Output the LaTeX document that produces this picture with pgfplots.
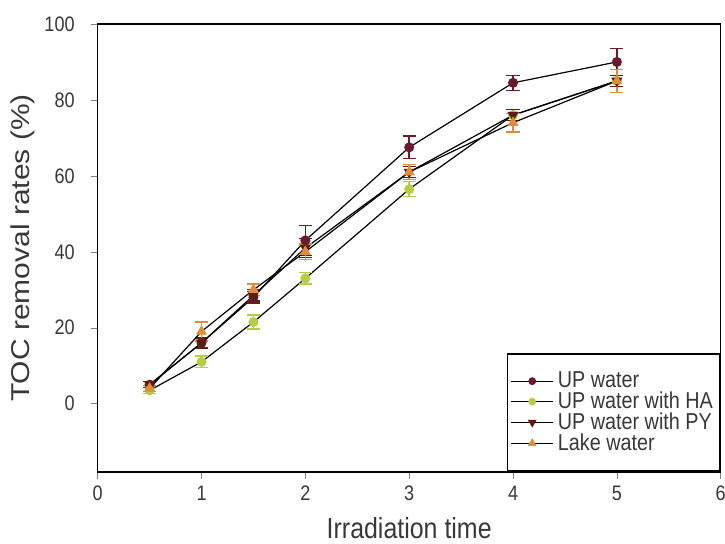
\documentclass[border=0pt]{standalone}
\usepackage{pgfplots}
\pgfplotsset{compat=1.18}
\usepackage{fontspec}
\setmainfont{Liberation Sans}
\newfontfamily\narrowfont{Liberation Sans}[FakeStretch=0.86]
\definecolor{cUP}{HTML}{6B1A2C}
\definecolor{cHA}{HTML}{B5CC45}
\definecolor{cPY}{HTML}{5A1E0E}
\definecolor{cLK}{HTML}{E08C3A}
\definecolor{txt}{HTML}{383838}
\begin{document}
\begin{tikzpicture}
\begin{axis}[
  name=ax, at={(0,0)}, anchor=south west,
  scale only axis, width=311.5pt, height=224pt,
  xmin=0, xmax=6, ymin=-18, ymax=100,
  xtick={0,1,2,3,4,5,6}, ytick={0,20,40,60,80,100},
  tick align=outside, tick pos=left, major tick length=3.5pt,
  /pgf/number format/assume math mode=true,
  ticklabel style={font=\narrowfont\fontsize{10.5}{12}\selectfont, text=txt},
  yticklabel style={xshift=-4.5pt},
  xlabel={Irradiation time}, ylabel={\scalebox{1}[0.86]{TOC removal rates (\%)}},
  xlabel style={font=\narrowfont\fontsize{14.5}{16}\selectfont, text=txt, yshift=-1.5pt},
  ylabel style={font=\fontsize{15}{16}\selectfont, text=txt, yshift=-2pt},
  axis line style={line width=0.8pt},
  legend style={font=\narrowfont\fontsize{11.5}{11}\selectfont, text=txt, draw=black, line width=0.8pt, inner xsep=1.5pt, inner ysep=7pt, row sep=-3.4pt, at={(1,0)}, anchor=south east, legend cell align=left, fill=white},
  legend image code/.code={\draw[mark repeat=2,mark phase=2,every mark/.append style={scale=0.75},#1] plot coordinates {(0cm,0cm) (0.37cm,0cm) (0.74cm,0cm)};},
  every axis plot/.append style={line width=0.6pt},
  error bars/y dir=both, error bars/y explicit,
  error bars/error mark options={rotate=90, mark size=3.3pt, line width=0.7pt},
]
\addplot[black, mark=*, mark size=2.2pt, mark options={draw=cUP, fill=cUP},
  error bars/error bar style={cUP, line width=0.7pt}]
  coordinates {(0.5,5)+-(0,0.8) (1,16)+-(0,1.2) (1.5,28)+-(0,1.5) (2,43)+-(0,4) (3,67.5)+-(0,3) (4,84.5)+-(0,2) (5,90)+-(0,3.5)};
\addlegendentry{UP water}
\addplot[black, mark=*, mark size=2.2pt, mark options={draw=cHA, fill=cHA},
  error bars/error bar style={cHA, line width=0.7pt}]
  coordinates {(0.5,3.5)+-(0,0.8) (1,11)+-(0,1.5) (1.5,21.5)+-(0,1.8) (2,33)+-(0,1.5) (3,56.5)+-(0,2) (4,76)+-(0,1.5) (5,85)+-(0,1.5)};
\addlegendentry{UP water with HA}
\addplot[black, mark=triangle*, mark size=2.6pt, mark options={draw=cPY, fill=cPY, rotate=180},
  error bars/error bar style={cPY, line width=0.7pt}]
  coordinates {(0.5,5)+-(0,0.8) (1,16)+-(0,1.5) (1.5,28.5)+-(0,1.5) (2,41)+-(0,2.5) (3,61)+-(0,1.5) (4,76)+-(0,1.5) (5,85)+-(0,1.5)};
\addlegendentry{UP water with PY}
\addplot[black, mark=triangle*, mark size=2.6pt, mark options={draw=cLK, fill=cLK},
  error bars/error bar style={cLK, line width=0.7pt}]
  coordinates {(0.5,4)+-(0,0.8) (1,19)+-(0,2.5) (1.5,30)+-(0,1.5) (2,40)+-(0,2) (3,61)+-(0,2) (4,74)+-(0,2.5) (5,85)+-(0,3)};
\addlegendentry{Lake water}
\end{axis}
\pgfresetboundingbox
\path[use as bounding box] (-48.85pt,-36pt) rectangle (313.65pt,236pt);
\end{tikzpicture}
\end{document}
